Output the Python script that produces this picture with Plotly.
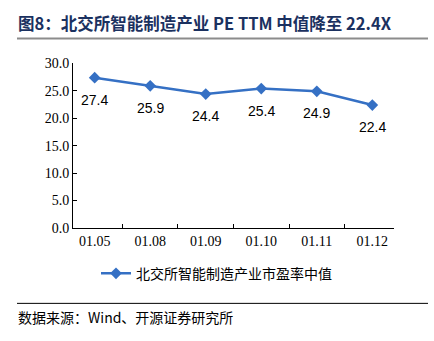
import plotly.graph_objects as go

categories = ["01.05", "01.08", "01.09", "01.10", "01.11", "01.12"]
pe_median = [27.4, 25.9, 24.4, 25.4, 24.9, 22.4]
series_name = "北交所智能制造产业市盈率中值"
title_text = "图8：北交所智能制造产业 PE TTM 中值降至 22.4X"
source_text = "数据来源：Wind、开源证券研究所"

W, H = 434, 341
line_color = "#3570C4"

fig = go.Figure()
fig.add_trace(go.Scatter(
    x=categories, y=pe_median, mode="lines+markers", name=series_name,
    line=dict(color=line_color, width=2.5),
    marker=dict(symbol="diamond", size=9, color=line_color),
))

for i, v in enumerate(pe_median):
    fig.add_annotation(x=i, y=v, xref="x", yref="y", text=f"{v:.1f}",
                       showarrow=False, yshift=-22,
                       font=dict(family="Liberation Sans", size=14, color="#000"))

def px_x(p):
    return p / W

def px_y(p):
    return 1 - p / H

fig.update_layout(
    width=W, height=H,
    margin=dict(l=0, r=0, t=0, b=0),
    paper_bgcolor="white", plot_bgcolor="white",
    showlegend=True,
    legend=dict(orientation="h", x=px_x(96), y=px_y(279), xanchor="left", yanchor="middle",
                font=dict(family="Noto Sans CJK SC", size=14, color="#000"),
                itemwidth=30, bgcolor="rgba(0,0,0,0)"),
    xaxis=dict(domain=[px_x(73), px_x(394)], type="category",
               showline=True, linecolor="#000", linewidth=1,
               ticks="inside", tickson="boundaries", ticklen=4, tickcolor="#000",
               showgrid=False, zeroline=False,
               tickfont=dict(family="Liberation Serif", size=14, color="#000")),
    yaxis=dict(domain=[px_y(231), px_y(59)], range=[0, 30], dtick=5, tickformat=".1f",
               showline=True, linecolor="#000", linewidth=1,
               ticks="inside", ticklen=4, tickcolor="#000",
               showgrid=False, zeroline=False,
               tickfont=dict(family="Liberation Serif", size=14, color="#000")),
)

fig.add_annotation(xref="paper", yref="paper", x=px_x(16), y=px_y(17), xanchor="left", yanchor="middle",
                   text=f"<b>{title_text}</b>", showarrow=False,
                   font=dict(family="Noto Sans CJK SC", size=16.5, color="#1B3160"))
fig.add_shape(type="line", xref="paper", yref="paper", x0=px_x(17), x1=px_x(428),
              y0=px_y(33), y1=px_y(33), line=dict(color="#8C8C8C", width=2))
fig.add_shape(type="line", xref="paper", yref="paper", x0=px_x(17), x1=px_x(428),
              y0=px_y(310), y1=px_y(310), line=dict(color="#000", width=1))
fig.add_annotation(xref="paper", yref="paper", x=px_x(16), y=px_y(324), xanchor="left", yanchor="middle",
                   text=source_text, showarrow=False,
                   font=dict(family="Noto Sans CJK SC", size=14, color="#000"))

fig.write_html("out.html")
